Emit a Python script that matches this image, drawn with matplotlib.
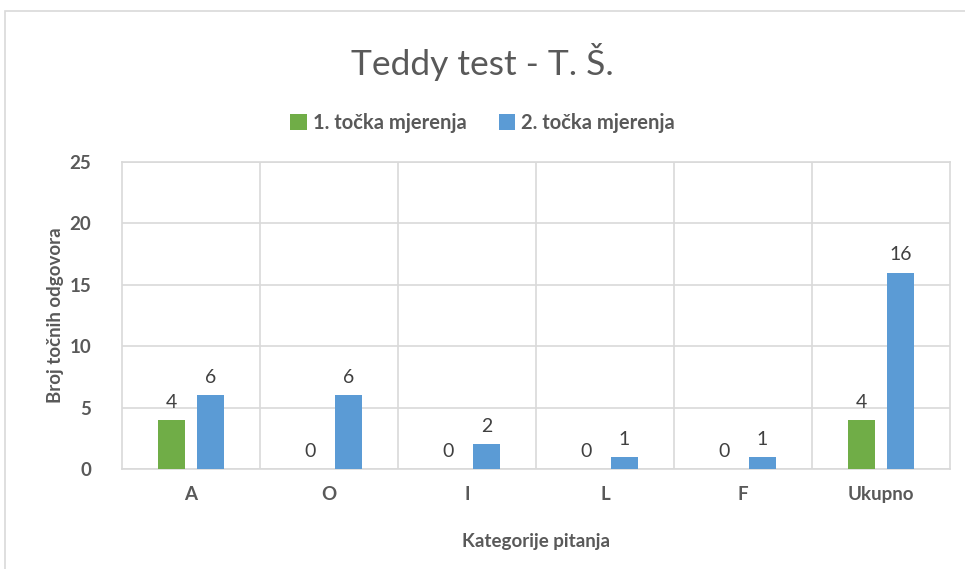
import numpy as np
import matplotlib.pyplot as plt
from matplotlib.patches import Rectangle

categories = ["A", "O", "I", "L", "F", "Ukupno"]
tocka1 = [4, 0, 0, 0, 0, 4]
tocka2 = [6, 6, 2, 1, 1, 16]

green = "#70ad47"
blue = "#5b9bd5"
grey = "#595959"
gridc = "#d9d9d9"

plt.rcParams['font.family'] = ['Lato', 'DejaVu Sans']

fig = plt.figure(figsize=(9.65, 5.69), dpi=100)
ax = fig.add_axes([122/965, 1 - 469/569, 828/965, 307/569])

# chart border
fig.patches.append(Rectangle((5/965, -0.05), 1.0, 558/569 + 0.05, transform=fig.transFigure,
                             fill=False, edgecolor=gridc, linewidth=1.2))

x = np.arange(len(categories))
w = 0.195
off = 0.14

b1 = ax.bar(x - off, tocka1, w, color=green, label="1. točka mjerenja", zorder=3)
b2 = ax.bar(x + off, tocka2, w, color=blue, label="2. točka mjerenja", zorder=3)

# data labels
for bars in (b1, b2):
    for r in bars:
        h = r.get_height()
        ax.text(r.get_x() + r.get_width() / 2, h + 0.75, f"{int(h)}", ha="center", va="bottom",
                fontsize=14, color="#404040")

ax.set_xlim(-0.5, len(categories) - 0.5)
ax.set_ylim(0, 25)
ax.set_yticks(range(0, 26, 5))
ax.set_xticks(x)
ax.set_xticklabels(categories)

for b in np.arange(0.5, len(categories) - 0.5, 1):
    ax.axvline(b, color=gridc, linewidth=1.2, zorder=1)
ax.grid(axis="y", color=gridc, linewidth=1.2, zorder=1)

for s in ax.spines.values():
    s.set_color(gridc)
    s.set_linewidth(1.2)

ax.tick_params(length=0, labelsize=13.5, labelcolor=grey)
ax.tick_params(axis="x", pad=12)
ax.tick_params(axis="y", pad=22)
for lbl in ax.get_xticklabels() + ax.get_yticklabels():
    lbl.set_fontweight("bold")

ax.set_xlabel("Kategorije pitanja", fontsize=13.5, fontweight="bold", color=grey, labelpad=22)
ax.set_ylabel("Broj točnih odgovora", fontsize=13.5, fontweight="bold", color=grey, labelpad=4)

fig.text(0.5, 1 - 62/569, "Teddy test - T. Š.", ha="center", va="center", fontsize=25.5, color=grey)
fig.legend(loc="center", bbox_to_anchor=(0.5, 1 - 123/569), ncol=2, frameon=False,
           prop={"size": 14.5, "weight": "bold"}, labelcolor=grey, handlelength=0.8,
           handleheight=0.9, handletextpad=0.3, columnspacing=1.6)

fig.savefig("out.png", dpi=100)
